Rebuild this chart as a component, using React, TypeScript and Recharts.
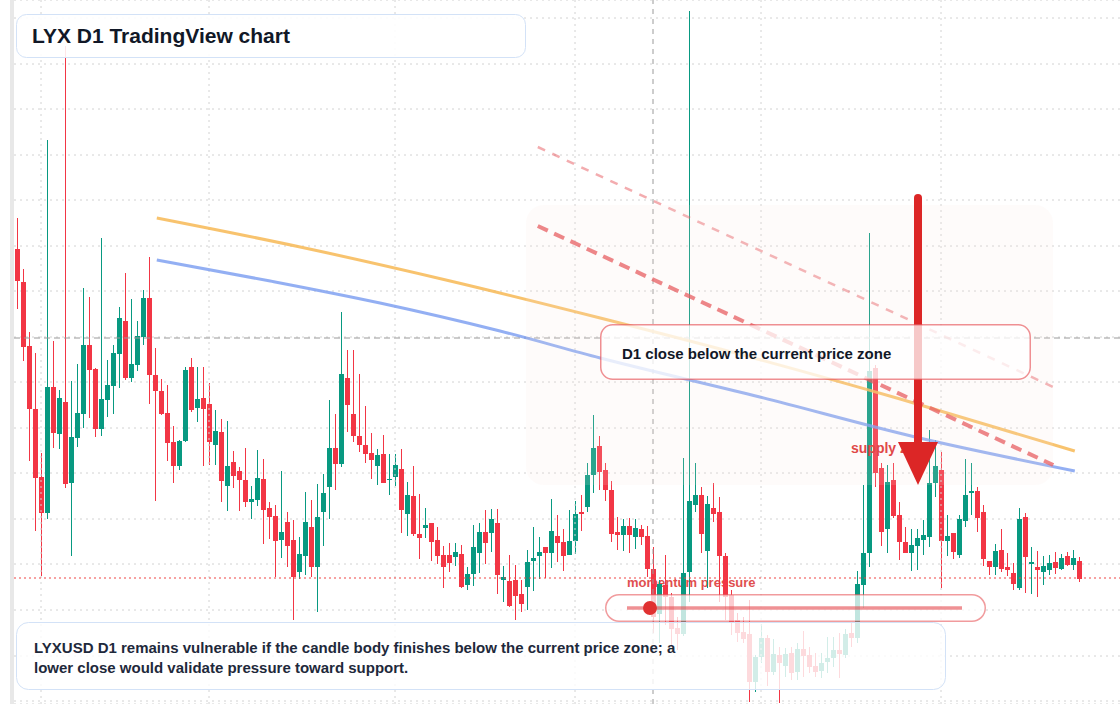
import React from "react";
import { ComposedChart, Bar, Line, XAxis, YAxis, CartesianGrid, ReferenceLine } from "recharts";

// ---- Daily candles (LYXUSD D1), prices in USD ----
const OPEN = [
  1.055, 1.022, 0.958, 0.895, 0.827, 0.791, 0.917, 0.870, 0.902, 0.821,
  0.866, 0.890, 0.959, 0.935, 0.875, 0.904, 0.918, 0.950, 0.983, 0.926,
  0.939, 0.967, 1.006, 0.929, 0.913, 0.891, 0.862, 0.838, 0.863, 0.937,
  0.896, 0.906, 0.900, 0.859, 0.872, 0.818, 0.842, 0.833, 0.824, 0.802,
  0.804, 0.825, 0.796, 0.788, 0.764, 0.782, 0.764, 0.732, 0.748, 0.777,
  0.737, 0.792, 0.817, 0.856, 0.840, 0.926, 0.890, 0.868, 0.859, 0.851,
  0.838, 0.850, 0.824, 0.827, 0.835, 0.790, 0.808, 0.770, 0.776, 0.781,
  0.764, 0.749, 0.749, 0.747, 0.750, 0.719, 0.730, 0.751, 0.772, 0.771,
  0.781, 0.724, 0.723, 0.724, 0.710, 0.717, 0.743, 0.748, 0.757, 0.751,
  0.768, 0.762, 0.749, 0.763, 0.792, 0.797, 0.829, 0.858, 0.834, 0.814,
  0.772, 0.769, 0.778, 0.767, 0.775, 0.768, 0.735, 0.690, 0.719, 0.707,
  0.676, 0.670, 0.732, 0.799, 0.809, 0.753, 0.796, 0.792, 0.748, 0.709,
  0.684, 0.672, 0.670, 0.622, 0.647, 0.666, 0.632, 0.649, 0.638, 0.651,
  0.632, 0.655, 0.649, 0.638, 0.633, 0.642, 0.646, 0.654, 0.649, 0.671,
  0.666, 0.719, 0.751, 0.936, 0.836, 0.775, 0.824, 0.789, 0.762, 0.751,
  0.758, 0.764, 0.767, 0.821, 0.834, 0.763, 0.771, 0.749, 0.783, 0.811,
  0.813, 0.792, 0.743, 0.737, 0.754, 0.737, 0.731, 0.716, 0.787, 0.740,
  0.737, 0.732, 0.734, 0.742, 0.735, 0.748, 0.739, 0.743,
];
const CLOSE = [
  1.023, 0.957, 0.895, 0.826, 0.791, 0.917, 0.871, 0.906, 0.820, 0.867,
  0.891, 0.959, 0.934, 0.875, 0.905, 0.919, 0.951, 0.986, 0.926, 0.940,
  0.968, 1.006, 0.929, 0.913, 0.890, 0.861, 0.838, 0.863, 0.934, 0.894,
  0.905, 0.895, 0.862, 0.873, 0.823, 0.838, 0.828, 0.824, 0.802, 0.805,
  0.826, 0.794, 0.787, 0.763, 0.772, 0.758, 0.727, 0.750, 0.782, 0.737,
  0.787, 0.811, 0.856, 0.840, 0.930, 0.899, 0.868, 0.859, 0.850, 0.844,
  0.849, 0.821, 0.825, 0.839, 0.794, 0.809, 0.770, 0.766, 0.779, 0.762,
  0.748, 0.737, 0.741, 0.752, 0.717, 0.730, 0.757, 0.772, 0.761, 0.785,
  0.729, 0.727, 0.698, 0.708, 0.700, 0.742, 0.746, 0.752, 0.751, 0.773,
  0.761, 0.748, 0.763, 0.790, 0.790, 0.829, 0.856, 0.832, 0.814, 0.770,
  0.769, 0.778, 0.769, 0.776, 0.767, 0.735, 0.687, 0.720, 0.707, 0.675,
  0.670, 0.731, 0.803, 0.809, 0.770, 0.800, 0.790, 0.748, 0.707, 0.682,
  0.671, 0.665, 0.622, 0.647, 0.666, 0.632, 0.650, 0.641, 0.650, 0.631,
  0.655, 0.648, 0.637, 0.632, 0.641, 0.646, 0.654, 0.650, 0.670, 0.666,
  0.720, 0.751, 0.933, 0.831, 0.772, 0.822, 0.788, 0.762, 0.751, 0.759,
  0.766, 0.769, 0.821, 0.838, 0.763, 0.768, 0.752, 0.785, 0.809, 0.813,
  0.786, 0.745, 0.737, 0.753, 0.735, 0.734, 0.720, 0.785, 0.747, 0.742,
  0.734, 0.738, 0.741, 0.736, 0.746, 0.739, 0.746, 0.725,
];
const HIGH = [
  1.086, 1.035, 0.972, 0.951, 0.851, 1.164, 0.963, 0.914, 1.258, 0.923,
  0.940, 1.016, 1.007, 0.936, 1.066, 0.944, 0.959, 0.997, 1.031, 1.005,
  0.983, 1.014, 1.047, 0.956, 0.925, 0.919, 0.878, 0.864, 0.937, 0.946,
  0.937, 0.937, 0.921, 0.894, 0.885, 0.883, 0.853, 0.837, 0.856, 0.818,
  0.854, 0.845, 0.802, 0.799, 0.833, 0.792, 0.784, 0.767, 0.812, 0.804,
  0.820, 0.830, 0.904, 0.890, 0.992, 0.954, 0.954, 0.930, 0.898, 0.871,
  0.855, 0.869, 0.850, 0.850, 0.855, 0.822, 0.838, 0.810, 0.796, 0.781,
  0.777, 0.758, 0.761, 0.761, 0.759, 0.737, 0.779, 0.781, 0.794, 0.795,
  0.795, 0.738, 0.749, 0.739, 0.724, 0.754, 0.777, 0.767, 0.757, 0.805,
  0.789, 0.775, 0.794, 0.803, 0.809, 0.841, 0.889, 0.868, 0.841, 0.823,
  0.787, 0.785, 0.786, 0.785, 0.779, 0.778, 0.757, 0.724, 0.749, 0.711,
  0.687, 0.846, 1.293, 0.841, 0.817, 0.808, 0.821, 0.807, 0.751, 0.714,
  0.691, 0.687, 0.704, 0.649, 0.680, 0.669, 0.665, 0.657, 0.656, 0.657,
  0.661, 0.673, 0.657, 0.651, 0.651, 0.667, 0.667, 0.671, 0.675, 0.682,
  0.733, 0.819, 1.071, 0.939, 0.841, 0.839, 0.841, 0.802, 0.777, 0.775,
  0.775, 0.784, 0.874, 0.864, 0.852, 0.789, 0.771, 0.789, 0.845, 0.841,
  0.817, 0.799, 0.743, 0.760, 0.775, 0.751, 0.741, 0.796, 0.791, 0.757,
  0.753, 0.748, 0.749, 0.752, 0.750, 0.752, 0.754, 0.747,
];
const LOW = [
  0.995, 0.943, 0.843, 0.773, 0.728, 0.785, 0.856, 0.855, 0.816, 0.748,
  0.857, 0.876, 0.886, 0.867, 0.868, 0.887, 0.890, 0.916, 0.924, 0.922,
  0.933, 0.959, 0.900, 0.803, 0.889, 0.843, 0.821, 0.834, 0.862, 0.892,
  0.882, 0.838, 0.839, 0.839, 0.802, 0.793, 0.816, 0.793, 0.797, 0.785,
  0.798, 0.760, 0.765, 0.727, 0.746, 0.737, 0.684, 0.725, 0.729, 0.727,
  0.692, 0.758, 0.785, 0.814, 0.837, 0.872, 0.862, 0.852, 0.841, 0.825,
  0.819, 0.821, 0.809, 0.818, 0.771, 0.768, 0.768, 0.745, 0.766, 0.743,
  0.740, 0.716, 0.732, 0.738, 0.716, 0.714, 0.718, 0.731, 0.740, 0.752,
  0.710, 0.702, 0.697, 0.684, 0.692, 0.694, 0.713, 0.725, 0.726, 0.736,
  0.742, 0.733, 0.749, 0.750, 0.773, 0.792, 0.811, 0.814, 0.803, 0.762,
  0.754, 0.753, 0.751, 0.755, 0.759, 0.727, 0.671, 0.661, 0.679, 0.657,
  0.654, 0.668, 0.702, 0.792, 0.751, 0.716, 0.782, 0.702, 0.684, 0.669,
  0.662, 0.661, 0.602, 0.612, 0.641, 0.618, 0.629, 0.601, 0.627, 0.624,
  0.624, 0.627, 0.631, 0.627, 0.626, 0.631, 0.637, 0.626, 0.646, 0.657,
  0.661, 0.696, 0.737, 0.817, 0.758, 0.751, 0.786, 0.744, 0.751, 0.733,
  0.734, 0.749, 0.757, 0.807, 0.716, 0.748, 0.745, 0.746, 0.777, 0.789,
  0.772, 0.738, 0.729, 0.729, 0.732, 0.728, 0.714, 0.714, 0.711, 0.710,
  0.707, 0.719, 0.729, 0.730, 0.734, 0.738, 0.734, 0.722,
];

// daily categories starting 2025-01-28
const FIRST_DAY = Date.UTC(2025, 0, 28);
const DATES = OPEN.map((_, i) => new Date(FIRST_DAY + i * 86400000).toISOString().slice(0, 10));

// month boundaries (vertical grid) and price grid levels
const MONTH_START_INDEX = [4, 32, 63, 93, 124, 154];
const MONTH_LABELS = ["Feb", "Mar", "Apr", "May", "Jun", "Jul"];
const PRICE_GRID = [1.286, 1.24, 1.195, 1.149, 1.104, 1.058, 1.013, 0.967, 0.922, 0.876, 0.831, 0.785, 0.74, 0.694, 0.648, 0.603];

// moving-average style curves (bar index, price)
const ORANGE_T = [23.3, 47.2, 72.2, 97.2, 122.2, 147.2, 176.3];
const ORANGE_P = [1.086, 1.057, 1.023, 0.986, 0.947, 0.905, 0.853];
const BLUE_T = [23.3, 42.2, 60.5, 80.5, 97.2, 123.8, 149.7, 176.3];
const BLUE_P = [1.044, 1.023, 1.001, 0.973, 0.946, 0.907, 0.867, 0.833];

// descending trend lines [start index, start price, end index, end price]
const TREND_MAIN = [86.8, 1.078, 172.7, 0.839];
const TREND_UPPER = [86.8, 1.157, 172.7, 0.917];

const CURRENT_PRICE = 0.726;
const CROSSHAIR_PRICE = 0.966;
const CROSSHAIR_INDEX = 106;

const GREEN = "#089981";
const RED = "#f23645";
const GRID = "#d2d2d2";
const FONT = "'Liberation Sans', Arial, Helvetica, sans-serif";

const candles = DATES.map((d, i) => ({
  date: d,
  open: OPEN[i],
  high: HIGH[i],
  low: LOW[i],
  close: CLOSE[i],
  range: [LOW[i], HIGH[i]],
}));
const orangeData = ORANGE_T.map((t, i) => ({ t, v: ORANGE_P[i] }));
const blueData = BLUE_T.map((t, i) => ({ t, v: BLUE_P[i] }));

const Candle = (props: any) => {
  const { x, y, width, height, payload } = props;
  if (!payload || height == null) return null;
  const { open, close, high, low } = payload;
  const up = close >= open;
  const color = up ? GREEN : RED;
  const ratio = height / (high - low || 1);
  const cx = Math.floor(x + width / 2);
  const bodyTop = y + (high - Math.max(open, close)) * ratio;
  const bodyH = Math.max(1, Math.abs(open - close) * ratio);
  return (
    <g>
      <line x1={cx + 0.5} x2={cx + 0.5} y1={y} y2={y + height} stroke={color} strokeWidth={1} />
      <rect x={cx - 2} y={bodyTop} width={5} height={bodyH} fill={color} />
    </g>
  );
};

export default function App() {
  const W = 1120;
  const H = 704;
  return (
    <div style={{ position: "absolute", left: 0, top: 0, width: W, height: H, background: "#fff", overflow: "hidden" }}>
      {/* under-layer label */}
      <svg width={W} height={H} style={{ position: "absolute", left: 0, top: 0 }} fontFamily={FONT}>
        <text x={627} y={587} fontSize={13} fontWeight={700} fill="#e04f4f">momentum pressure</text>
      </svg>
      <div style={{ position: "absolute", left: 0, top: 0 }}>
        <ComposedChart width={W} height={H} data={candles} margin={{ top: 0, right: 0, bottom: 0, left: 14 }} barCategoryGap={0} barGap={0}>
          <XAxis dataKey="date" hide padding={{ left: 0, right: 38 }} />
          <XAxis
            xAxisId="num"
            type="number"
            dataKey="t"
            domain={[-0.5, OPEN.length - 0.5]}
            allowDataOverflow
            ticks={MONTH_START_INDEX}
            tickFormatter={(v: number) => MONTH_LABELS[MONTH_START_INDEX.indexOf(v)] || ""}
            hide
            padding={{ left: 0, right: 38 }}
          />
          <YAxis type="number" domain={[0.6, 1.304]} allowDataOverflow ticks={PRICE_GRID} interval={0} hide />
          <CartesianGrid vertical={false} stroke={GRID} strokeDasharray="2 4" />
          {MONTH_START_INDEX.map((m) => (
            <ReferenceLine key={m} xAxisId="num" x={m} stroke={GRID} strokeDasharray="2 4" />
          ))}
          <ReferenceLine xAxisId="num" y={CROSSHAIR_PRICE} stroke="#9a9a9a" strokeDasharray="6 4" strokeWidth={1} />
          <ReferenceLine xAxisId="num" x={CROSSHAIR_INDEX} stroke="#9a9a9a" strokeDasharray="5 5" strokeWidth={1} />
          <ReferenceLine xAxisId="num" y={CURRENT_PRICE} stroke="#ef4444" strokeDasharray="2 3" strokeWidth={1.2} />
          <Bar dataKey="range" shape={Candle} isAnimationActive={false} />
          <Line xAxisId="num" data={orangeData} dataKey="v" type="monotone" stroke="rgb(247,185,85)" strokeOpacity={0.85} strokeWidth={3} dot={false} activeDot={false} isAnimationActive={false} />
          <Line xAxisId="num" data={blueData} dataKey="v" type="monotone" stroke="rgb(120,155,240)" strokeOpacity={0.8} strokeWidth={3} dot={false} activeDot={false} isAnimationActive={false} />
          <ReferenceLine
            xAxisId="num"
            segment={[{ x: TREND_UPPER[0], y: TREND_UPPER[1] }, { x: TREND_UPPER[2], y: TREND_UPPER[3] }]}
            stroke="#e5484d"
            strokeOpacity={0.45}
            strokeWidth={2.5}
            strokeDasharray="8 8"
          />
          <ReferenceLine
            xAxisId="num"
            segment={[{ x: TREND_MAIN[0], y: TREND_MAIN[1] }, { x: TREND_MAIN[2], y: TREND_MAIN[3] }]}
            stroke="#e5484d"
            strokeOpacity={0.75}
            strokeWidth={4}
            strokeDasharray="11 7"
          />
        </ComposedChart>
      </div>
      {/* annotation layer */}
      <svg width={W} height={H} style={{ position: "absolute", left: 0, top: 0, pointerEvents: "none" }} fontFamily={FONT}>
        <rect x={526} y={205} width={527} height={280} rx={18} fill="rgb(245,230,220)" fillOpacity={0.15} />
        <text x={851} y={453} fontSize={14} fontWeight={700} fill="#e04848">supply zone</text>
        <line x1={918} y1={198} x2={918} y2={446} stroke="#dc2626" strokeWidth={8} strokeLinecap="round" />
        <polygon points="898,442 938,442 918,485" fill="#dc2626" />

        <rect x={600.75} y={324.75} width={429.5} height={54.5} rx={12} fill="#fff" fillOpacity={0.75} stroke="#e5484d" strokeOpacity={0.6} strokeWidth={1.5} />
        <text x={622} y={359} fontSize={15} fontWeight={700} fill="#111827">D1 close below the current price zone</text>

        <rect x={605.75} y={594.75} width={379.5} height={26.5} rx={13.25} fill="#fff" fillOpacity={0.75} stroke="#e5484d" strokeOpacity={0.55} strokeWidth={1.5} />
        <line x1={627} y1={608} x2={962} y2={608} stroke="#e5484d" strokeOpacity={0.6} strokeWidth={3.5} />
        <circle cx={650} cy={608} r={7} fill="#e03131" />

        <rect x={16.5} y={14.5} width={509} height={43} rx={10} fill="#fff" fillOpacity={0.88} stroke="#d3e2f7" />
        <text x={32} y={43} fontSize={21} fontWeight={700} fill="#111827">LYX D1 TradingView chart</text>

        <rect x={16.5} y={622.5} width={929} height={67} rx={12} fill="#fff" fillOpacity={0.82} stroke="#d3e2f7" />
        <text x={34} y={653} fontSize={15} fontWeight={700} fill="#1e293b">
          LYXUSD D1 remains vulnerable if the candle body finishes below the current price zone; a
        </text>
        <text x={34} y={673} fontSize={15} fontWeight={700} fill="#1e293b">
          lower close would validate pressure toward support.
        </text>
      </svg>
      <div style={{ position: "absolute", left: 10, top: 0, width: 4, height: H, background: "#e8e8e8" }} />
    </div>
  );
}
